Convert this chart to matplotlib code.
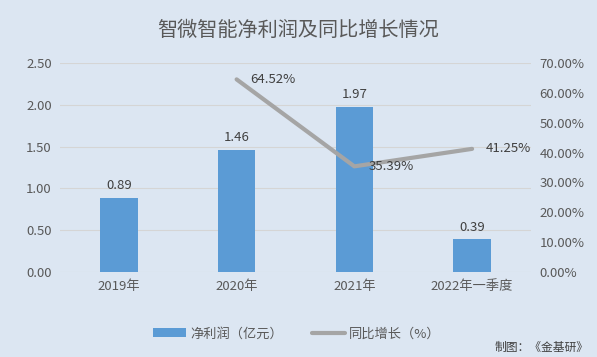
import matplotlib
matplotlib.use("Agg")
import matplotlib.pyplot as plt
from matplotlib.ticker import FuncFormatter
from matplotlib.lines import Line2D
from matplotlib.patches import Patch

plt.rcParams['font.family'] = ['Noto Sans CJK SC', 'DejaVu Sans']

categories = ["2019年", "2020年", "2021年", "2022年一季度"]
profit = [0.89, 1.46, 1.97, 0.39]
growth_cats = ["2020年", "2021年", "2022年一季度"]
growth = [64.52, 35.39, 41.25]

bg = '#DCE6F2'
fig = plt.figure(figsize=(5.97, 3.57), dpi=100, facecolor=bg)
ax = fig.add_axes([0.1005, 0.238, 0.7889, 0.5855], facecolor=bg)
x = list(range(len(categories)))
bars = ax.bar(x, profit, width=0.32, color='#5B9BD5', zorder=2)
ax.set_ylim(0, 2.5)
ax.set_yticks([0, 0.5, 1.0, 1.5, 2.0, 2.5])
ax.yaxis.set_major_formatter(FuncFormatter(lambda v, p: f"{v:.2f}"))
ax.set_xlim(-0.5, 3.5)
ax.set_xticks(x)
ax.set_xticklabels(categories)
ax.grid(axis='y', color='#D5D5D5', linewidth=0.8, zorder=0)
for s in ax.spines.values():
    s.set_visible(False)
ax.tick_params(axis='both', length=0, labelsize=9.5, colors='#595959', pad=6)
for xi, v in zip(x, profit):
    ax.text(xi, v + 0.07, f"{v:.2f}", ha='center', va='bottom', fontsize=9.5, color='#404040')

ax2 = ax.twinx()
ax2.set_ylim(0, 70)
ax2.set_yticks(range(0, 71, 10))
ax2.yaxis.set_major_formatter(FuncFormatter(lambda v, p: f"{v:.2f}%"))
for s in ax2.spines.values():
    s.set_visible(False)
ax2.tick_params(axis='y', length=0, labelsize=9.5, colors='#595959', pad=6)
gx = [categories.index(c) for c in growth_cats]
ax2.plot(gx, growth, color='#A5A5A5', linewidth=3, zorder=3, solid_capstyle='round')
for xi, v in zip(gx, growth):
    ax2.text(xi + 0.12, v + 0.0, f"{v:.2f}%", ha='left', va='center', fontsize=9.5, color='#404040')

fig.text(0.5, 0.915, "智微智能净利润及同比增长情况", ha='center', va='center', fontsize=14.5, color='#595959')

handles = [Patch(facecolor='#5B9BD5', edgecolor='none'),
           Line2D([0], [0], color='#A5A5A5', linewidth=3, solid_capstyle='round')]
fig.legend(handles, ["净利润（亿元）", "同比增长（%）"], loc='center', bbox_to_anchor=(0.497, 0.065),
           ncol=2, frameon=False, fontsize=9.5, labelcolor='#595959', handlelength=2.5,
           columnspacing=2.2, handletextpad=0.3)
fig.text(0.985, 0.028, "制图：《金基研》", ha='right', va='center', fontsize=8.5, color='#404040')

fig.savefig("out.png", dpi=100, facecolor=bg)
